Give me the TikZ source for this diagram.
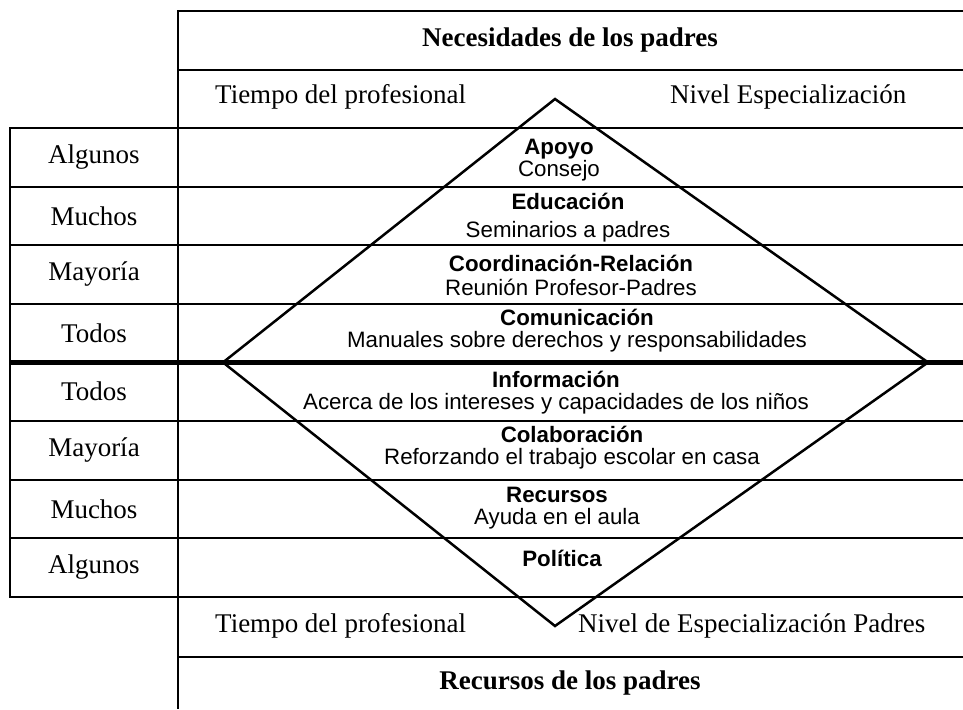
\documentclass[tikz,border=0pt]{standalone}
\usepackage{fontspec}
\setmainfont{Liberation Serif}
\setsansfont{Liberation Sans}
\usepackage{tikz}
\tikzset{
  % node options
  rowlab/.style={font=\fontsize{27}{30}\selectfont,inner sep=0pt},
  heading/.style={font=\bfseries\fontsize{27}{30}\selectfont,inner sep=0pt},
  axislab/.style={rowlab,anchor=west},
  act/.style={font=\sffamily\fontsize{22.3}{22}\selectfont,align=center,inner sep=0pt},
  % path options
  gridline/.style={line width=2pt},
  midline/.style={line width=5.5pt},
  rhombus/.style={line width=2.5pt,line join=miter},
}

\begin{document}
\begin{tikzpicture}[x=1pt,y=-1pt]
  \useasboundingbox (0,0) rectangle (963,709);
  % frame and rows
  \draw[gridline] (963,11) -- (178,11) -- (178,709);
  \draw[gridline] (178,70) -- (963,70);
  \draw[gridline] (963,128) -- (10,128) -- (10,597) -- (963,597);
  \draw[gridline] (10,186.6) -- (963,186.6);
  \draw[gridline] (10,245.2) -- (963,245.2);
  \draw[gridline] (10,303.8) -- (963,303.8);
  \draw[midline] (10,362.4) -- (963,362.4);
  \draw[gridline] (10,421) -- (963,421);
  \draw[gridline] (10,479.6) -- (963,479.6);
  \draw[gridline] (10,538.2) -- (963,538.2);
  \draw[gridline] (178,657) -- (963,657);
  % diamond
  \coordinate (top) at (555,99);
  \coordinate (left) at (223,362.4);
  \coordinate (bottom) at (555,626);
  \coordinate (right) at (928,362.4);
  \draw[rhombus] (top) -- (left) -- (bottom) -- (right) -- cycle;
  % headings
  \node[heading] (needs) at (570,40) {Necesidades de los padres};
  \node[heading] (resources) at (570,683) {Recursos de los padres};
  \node[axislab] (timeTop) at (215,97) {Tiempo del profesional};
  \node[axislab] (levelTop) at (670,97) {Nivel Especialización};
  \node[axislab] (timeBottom) at (215,626) {Tiempo del profesional};
  \node[axislab] (levelBottom) at (578,626) {Nivel de Especialización Padres};
  % left column
  \node[rowlab] (some1) at (94,157.3) {Algunos};
  \node[rowlab] (many1) at (94,215.9) {Muchos};
  \node[rowlab] (most1) at (94,274.5) {Mayoría};
  \node[rowlab] (all1) at (94,333.1) {Todos};
  \node[rowlab] (all2) at (94,391.7) {Todos};
  \node[rowlab] (most2) at (94,450.3) {Mayoría};
  \node[rowlab] (many2) at (94,508.9) {Muchos};
  \node[rowlab] (some2) at (94,567.5) {Algunos};
  % needs
  \node[act] (support) at (559,160) {\textbf{Apoyo}\\Consejo};
  \node[act] (education) at (568,218) {\textbf{Educación}\\[6pt]Seminarios a padres};
  \node[act] (coordination) at (571,275) {\textbf{Coordinación-Relación}\\[2pt]Reunión Profesor-Padres};
  \node[act] (communication) at (577,331) {\textbf{Comunicación}\\Manuales sobre derechos y responsabilidades};
  % resources
  \node[act] (information) at (556,393) {\textbf{Información}\\Acerca de los intereses y capacidades de los niños};
  \node[act] (collaboration) at (572,448) {\textbf{Colaboración}\\Reforzando el trabajo escolar en casa};
  \node[act] (means) at (557,508) {\textbf{Recursos}\\Ayuda en el aula};
  \node[act,font=\sffamily\bfseries\fontsize{22.3}{22}\selectfont] (policy) at (562,558) {Política};
\end{tikzpicture}
\end{document}
